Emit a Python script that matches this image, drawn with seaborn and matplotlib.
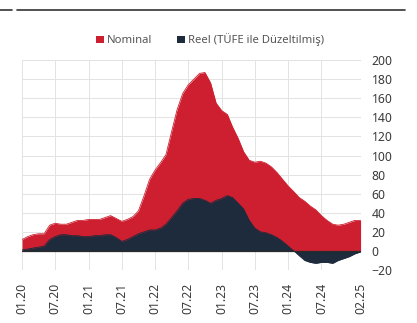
import matplotlib
matplotlib.use("Agg")
import matplotlib.pyplot as plt
from matplotlib.patches import Patch
from matplotlib.lines import Line2D
import pandas as pd
import seaborn as sns

# Monthly series, 2020-01 .. 2025-02 (annual % change)
months = pd.date_range("2020-01-01", "2025-02-01", freq="MS")
nominal = [12, 15, 17, 18, 18, 27, 29, 28, 28, 30, 32, 32,
           33, 33, 33, 35, 37, 34, 31, 33, 36, 42, 58, 75,
           85, 93, 101, 125, 148, 165, 174, 180, 186, 187, 176, 155,
           147, 143, 130, 118, 104, 95, 93, 94, 92, 88, 82, 75,
           68, 62, 56, 52, 47, 43, 37, 32, 28, 27, 28, 30,
           32, 32]
real = [1, 2, 3, 4, 5, 12, 15, 17, 17, 16, 16, 15,
        15, 16, 16, 17, 17, 14, 10, 12, 15, 18, 20, 22,
        22, 24, 28, 35, 42, 50, 54, 55, 55, 53, 50, 53,
        55, 58, 56, 50, 44, 32, 24, 20, 19, 17, 14, 10,
        5, 0, -5, -10, -12, -13, -12, -12, -13, -10, -8, -6,
        -3, -1]
tick_labels = ["01.20", "07.20", "01.21", "07.21", "01.22", "07.22",
               "01.23", "07.23", "01.24", "07.24", "02.25"]
y_ticks = list(range(-20, 201, 20))
series_names = ["Nominal", "Reel (TÜFE ile Düzeltilmiş)"]

RED = "#CD1F30"
NAVY = "#1E2B3C"
TEXT = "#3a3a3a"

sns.set_theme(style="whitegrid")
plt.rcParams["font.family"] = ["Noto Sans", "DejaVu Sans"]

df = pd.DataFrame({"date": months, "nominal": nominal, "real": real})

fig = plt.figure(figsize=(4.17, 3.23), dpi=100)
ax = fig.add_axes([0.0528, 0.164, 0.8119, 0.650])

sns.lineplot(data=df, x="date", y="nominal", ax=ax, color=RED, lw=0.6)
ax.fill_between(df["date"], 0, df["nominal"], color=RED, lw=0)
sns.lineplot(data=df, x="date", y="real", ax=ax, color=NAVY, lw=0.6)
ax.fill_between(df["date"], 0, df["real"], color=NAVY, lw=0)

ax.axhline(0, color="#2a2a2a", lw=0.9, zorder=3)

tick_dates = pd.to_datetime(["20" + t[3:] + "-" + t[:2] + "-01" for t in tick_labels])
ax.set_xticks(tick_dates)
ax.set_xticklabels(tick_labels, rotation=90, fontsize=8.8, color=TEXT)
ax.set_xlim(months[0], months[-1])
ax.set_ylim(-20, 200)
ax.set_yticks(y_ticks)
ax.yaxis.tick_right()
ax.tick_params(axis="y", labelsize=8.8, labelcolor=TEXT, pad=8, length=0)
ax.tick_params(axis="x", pad=9, length=0)
ax.set_xlabel("")
ax.set_ylabel("")

ax.grid(True, color="#e3e3e3", lw=0.7)
for s in ax.spines.values():
    s.set_visible(False)
ax.set_facecolor("white")

handles = [Patch(facecolor=RED, edgecolor="none"),
           Patch(facecolor=NAVY, edgecolor="none")]
fig.legend(handles, series_names, loc="center", bbox_to_anchor=(0.504, 0.876),
           ncol=2, frameon=False, fontsize=8.1, handlelength=0.7, handleheight=0.7,
           handletextpad=0.3, columnspacing=2.2, labelcolor="#555555")

# header rule
fig.add_artist(Line2D([17 / 417, 405 / 417], [1 - 10 / 323] * 2,
                      color="#333333", lw=1.2, transform=fig.transFigure))
fig.add_artist(Line2D([0, 12 / 417], [1 - 10 / 323] * 2,
                      color="#333333", lw=1.2, transform=fig.transFigure))

fig.savefig("out.png", dpi=100, facecolor="white")
